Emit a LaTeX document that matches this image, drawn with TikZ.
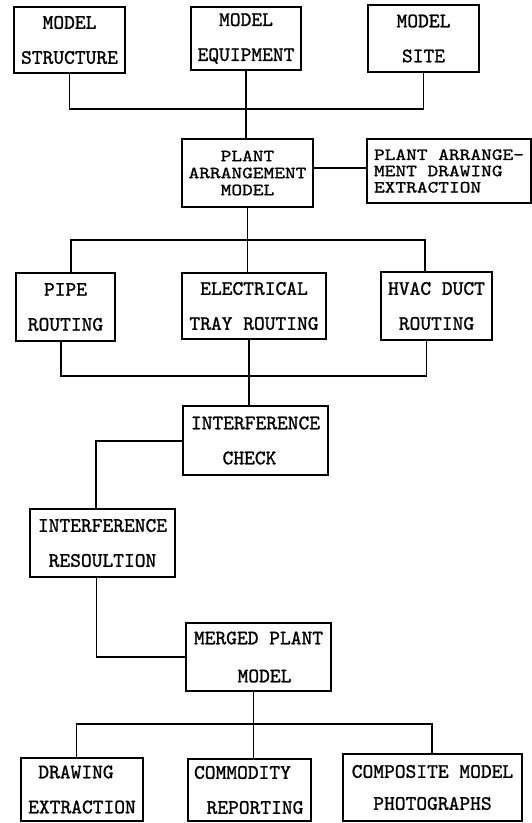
\documentclass[tikz,border=0pt]{standalone}
\usepackage{fontspec}
\newfontfamily\twbig{lmmono10-regular.otf}[FakeBold=1.2]
\newfontfamily\twsmall{lmmono10-regular.otf}[FakeBold=1.2, FakeStretch=1.2]
\tikzset{
  box/.style={draw, line width=1.1pt, inner sep=0pt, align=center,
    font=\twbig\fontsize{20.5}{35}\selectfont},
  sbox/.style={draw, line width=1.1pt, inner sep=0pt, align=center,
    font=\twsmall\fontsize{17}{17}\selectfont},
  wire/.style={line width=1.1pt},
}
\begin{document}
\begin{tikzpicture}[x=1pt,y=-1pt]
\useasboundingbox (0,0) rectangle (531,823);
% top row
\node[box, minimum width=111pt, minimum height=66pt] (struct) at (69.5,40) {MODEL\\STRUCTURE};
\node[box, minimum width=110pt, minimum height=63pt] (equip) at (246,38.5) {MODEL\\EQUIPMENT};
\node[box, minimum width=111pt, minimum height=67pt] (site) at (423.5,38.5) {MODEL\\SITE};
% plant
\node[sbox, minimum width=131pt, minimum height=68pt] (plant) at (247.5,173) {PLANT\\ARRANGEMENT\\MODEL};
\node[sbox, align=left, font=\twsmall\fontsize{17}{16.3}\selectfont, minimum width=164pt, minimum height=64pt] (extr) at (449,171) {PLANT ARRANGE-\\MENT DRAWING\\EXTRACTION};
% routing
\node[box, minimum width=99pt, minimum height=68pt] (pipe) at (65.5,307) {PIPE\\ROUTING};
\node[box, minimum width=144pt, minimum height=66pt] (elec) at (254,306) {ELECTRICAL\\TRAY ROUTING};
\node[box, minimum width=111pt, minimum height=68pt] (hvac) at (436.5,306) {HVAC DUCT\\ROUTING};
% interference
\node[box, minimum width=145pt, minimum height=69pt] (check) at (255.5,440.5) {INTERFERENCE\\CHECK\hspace*{12pt}};
\node[box, minimum width=145pt, minimum height=68pt] (resol) at (102.5,543) {INTERFERENCE\\RESOULTION};
% merged
\node[box, minimum width=145pt, minimum height=68pt] (merged) at (258.5,657) {MERGED PLANT\\[3pt]\hspace*{12pt}MODEL};
% outputs
\node[box, minimum width=122pt, minimum height=63pt] (drawing) at (82,789.5) {DRAWING\hspace*{12pt}\\EXTRACTION};
\node[box, minimum width=123pt, minimum height=62pt] (commod) at (249.5,790) {COMMODITY\hspace*{14pt}\\\hspace*{11pt}REPORTING};
\node[box, minimum width=179pt, minimum height=67pt] (compos) at (432.5,787.5) {COMPOSITE MODEL\\[-3pt]PHOTOGRAPHS};
% connectors
\coordinate (j1) at (246,109);
\draw[wire] (struct.south) |- (j1) -| (site.south);
\draw[wire] (equip.south) -- (equip.south |- plant.north);
\coordinate (py) at (0,168);
\draw[wire] (plant.east |- py) -- (extr.west |- py);
\coordinate (j2) at (247.5,240);
\coordinate (j2l) at (71,240);
\coordinate (j2r) at (425,240);
\draw[wire] (plant.south) -- (j2);
\draw[wire] (j2l |- pipe.north) -- (j2l) -- (j2r) -- (j2r |- hvac.north);
\draw[wire] (j2) -- (j2 |- elec.north);
\coordinate (j3) at (249,376);
\coordinate (j3l) at (61,376);
\coordinate (j3r) at (426.5,376);
\draw[wire] (j3l |- pipe.south) -- (j3l) -- (j3r) -- (j3r |- hvac.south);
\draw[wire] (j3 |- elec.south) -- (j3) -- (j3 |- check.north);
\coordinate (j4) at (96,441);
\draw[wire] (check.west |- j4) -- (j4) -- (j4 |- resol.north);
\coordinate (j5) at (96.5,657);
\draw[wire] (j5 |- resol.south) -- (j5) -- (j5 -| merged.west);
\coordinate (j6) at (253.6,724);
\coordinate (j6l) at (76.5,724);
\coordinate (j6r) at (432,724);
\draw[wire] (j6 |- merged.south) -- (j6) -- (j6 |- commod.north);
\draw[wire] (j6l |- drawing.north) -- (j6l) -- (j6r) -- (j6r |- compos.north);
\end{tikzpicture}
\end{document}
